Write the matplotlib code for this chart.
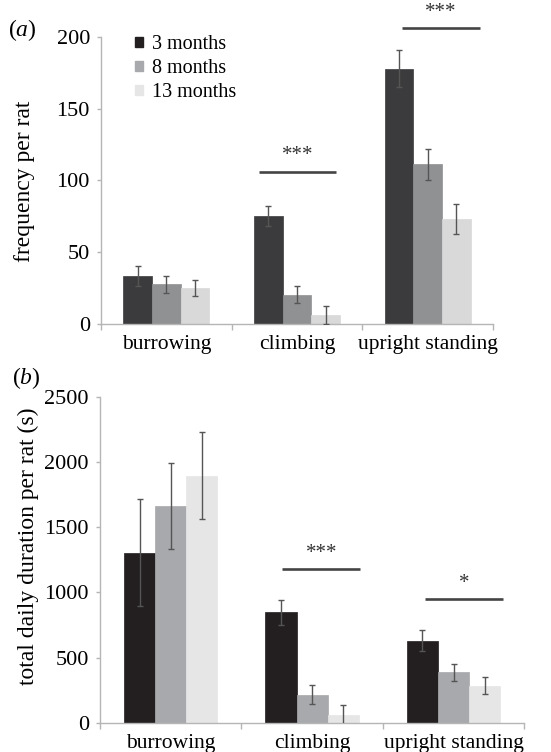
import matplotlib
matplotlib.use("Agg")
import matplotlib.pyplot as plt
from matplotlib.patches import Patch
import numpy as np

plt.rcParams['font.family'] = ['Liberation Serif', 'DejaVu Serif']
plt.rcParams['mathtext.fontset'] = 'custom'
plt.rcParams['mathtext.rm'] = 'Liberation Serif'
plt.rcParams['mathtext.it'] = 'Liberation Serif:italic'

categories = ["burrowing", "climbing", "upright standing"]
groups = ["3 months", "8 months", "13 months"]

# panel (a): frequency per rat
freq_mean = [[33, 75, 178], [27.5, 20, 111], [24.5, 6, 73]]
freq_err = [[7, 7, 13], [6, 6, 10.5], [5.6, 6, 10.5]]

# panel (b): total daily duration per rat (s)
dur_mean = [[1305, 847, 630], [1663, 217, 388], [1893, 58, 286]]
dur_err = [[410, 97, 79], [332, 75, 64], [333, 77, 64]]

# significance markers: (category index, x offsets from centre, height, label)
sig_a = [(1, -0.29, 0.30, 106, "***"), (2, -0.20, 0.40, 206, "***")]
sig_b = [(1, -0.21, 0.34, 1179, "***"), (2, -0.20, 0.35, 951, "*")]

colors_a = ["#3b3b3d", "#909193", "#d9d9d9"]
colors_b = ["#231f20", "#a8a9ac", "#e6e6e6"]
axis_col = "#b5b5b5"
err_col = "#555555"


def draw_panel(ax, means, errs, colors, sig, ymax, step, star_off):
    x = np.arange(len(categories))
    w = 0.22
    for i in range(len(groups)):
        ax.bar(x + (i - 1) * w, means[i], w, color=colors[i],
               edgecolor=colors[i], linewidth=0.5, zorder=2)
        ax.errorbar(x + (i - 1) * w, means[i], yerr=errs[i], fmt='none',
                    ecolor=err_col, elinewidth=1, capsize=2.5, capthick=1, zorder=3)
    # significance lines and stars
    for ci, x0, x1, h, lab in sig:
        ax.plot([ci + x0, ci + x1], [h, h], color="#444444", lw=1.9,
                solid_capstyle='butt', clip_on=False)
        ax.text(ci + (x0 + x1) / 2, h + star_off, lab, ha='center', va='center',
                fontsize=15, color="#333333")
    ax.set_xlim(-0.5, 2.5)
    ax.set_ylim(0, ymax)
    ax.set_yticks(np.arange(0, ymax + 1, step))
    ax.set_xticks(x)
    ax.set_xticklabels(categories)
    ax.set_xticks([-0.5, 0.5, 1.5, 2.5], minor=True)
    ax.tick_params(axis='x', which='major', length=0, pad=8, labelsize=15.5)
    ax.tick_params(axis='x', which='minor', length=4, color=axis_col, width=1)
    ax.tick_params(axis='y', length=3, color=axis_col, width=1, pad=5, labelsize=16)
    for s in ['top', 'right']:
        ax.spines[s].set_visible(False)
    for s in ['left', 'bottom']:
        ax.spines[s].set_color(axis_col)
        ax.spines[s].set_linewidth(1)


fig = plt.figure(figsize=(5.51, 7.52), dpi=100)

ax1 = fig.add_axes([0.1833, 0.5698, 0.7114, 0.381])
draw_panel(ax1, freq_mean, freq_err, colors_a, sig_a, 200, 50, 11)
handles = [Patch(facecolor=c, edgecolor=c) for c in colors_b]
ax1.legend(handles, groups, loc='upper left', bbox_to_anchor=(0.062, 1.042),
           frameon=False, fontsize=14.5, handlelength=0.4, handleheight=0.4,
           handletextpad=0.45, labelspacing=0.25, borderpad=0)
fig.text(25 / 551, 0.7586, "frequency per rat", rotation=90, ha='center',
         va='center', fontsize=17)
fig.text(8 / 551, 1 - 30 / 752, r"($\it{a}$)", ha='left', va='center', fontsize=17)

ax2 = fig.add_axes([0.1815, 0.0386, 0.770, 0.434])
draw_panel(ax2, dur_mean, dur_err, colors_b, sig_b, 2500, 500, 120)
fig.text(28 / 551, 0.2733, "total daily duration per rat (s)", rotation=90,
         ha='center', va='center', fontsize=17)
fig.text(12 / 551, 1 - 378 / 752, r"($\it{b}$)", ha='left', va='center', fontsize=17)

fig.savefig("out.png", dpi=100)
